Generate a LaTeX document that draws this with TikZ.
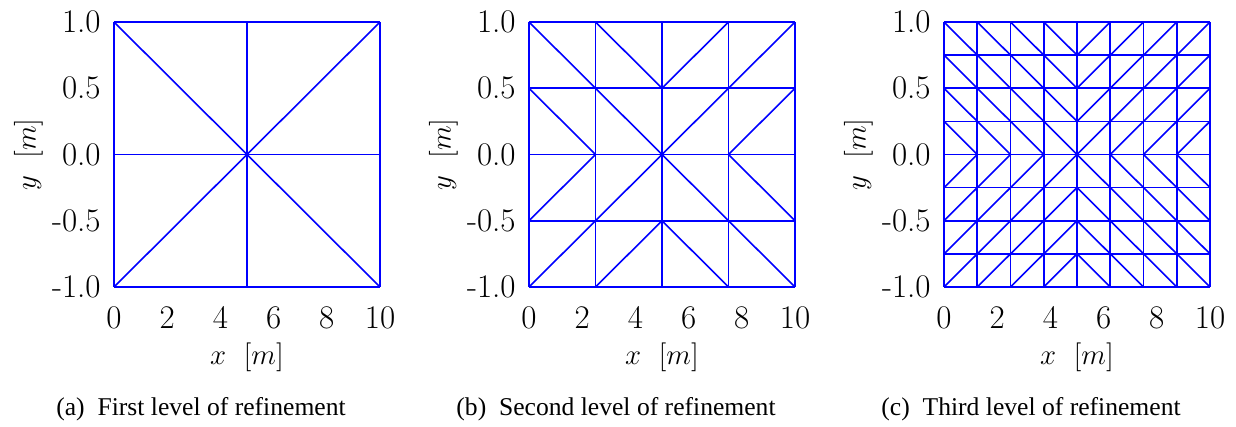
\documentclass[tikz,border=0pt]{standalone}
\usepackage{fontspec}
\newfontfamily\capfont{Liberation Serif}
\usetikzlibrary{positioning}

\begin{document}
\begin{tikzpicture}[x=0.5pt, y=0.5pt,
    mesh/.style={blue, line width=0.8pt},
    ticklab/.style={inner sep=0pt, font=\fontsize{16.5}{19}\selectfont},
    axlab/.style={inner sep=0pt, font=\fontsize{14.5}{17}\selectfont},
    caption/.style={inner sep=0pt, font=\capfont\fontsize{12.8}{15}\selectfont}
]
\useasboundingbox (0,0) rectangle (1236,427);

\foreach \n/\k/\lab/\lev in {2/0/a/First, 4/1/b/Second, 8/2/c/Third} {
  % mesh in data coordinates: x in [0,10], y in [-1,1]
  \begin{scope}[shift={(114+415*\k,272.5)}, x=13.3pt, y=66.25pt]
    \foreach \i in {0,...,\n} {
      \draw [mesh] ({\i*10/\n},-1) -- ({\i*10/\n},1);
      \draw [mesh] (0,{-1+\i*2/\n}) -- (10,{-1+\i*2/\n});
    }
    \foreach \i in {1,...,\n} {
      \foreach \j in {1,...,\n} {
        \pgfmathtruncatemacro\sgn{(2*\i-1-\n)*(2*\j-1-\n)}
        \ifnum\sgn<0
          \draw [mesh] ({(\i-1)*10/\n},{-1+\j*2/\n}) -- ({\i*10/\n},{-1+(\j-1)*2/\n});
        \else
          \draw [mesh] ({(\i-1)*10/\n},{-1+(\j-1)*2/\n}) -- ({\i*10/\n},{-1+\j*2/\n});
        \fi
      }
    }
    \foreach \t in {0,2,...,10}
      \node (xt\lab\t) [ticklab, anchor=north, yshift=-9.5pt] at (\t,-1) {\t};
    \foreach \v/\txt [count=\c] in {-1/-1.0, -0.5/-0.5, 0/0.0, 0.5/0.5, 1/1.0}
      \node (yt\lab\c) [ticklab, anchor=east, xshift=-6.5pt] at (0,\v) {\txt};
    \node (xl\lab) [axlab, anchor=base, yshift=-39pt] at (5,-1)
          {$x$\hspace{0.6em}$[m]$};
  \end{scope}
  \node (yl\lab) [axlab, rotate=90] at (28.5+415*\k,272.5)
        {$y$\hspace{0.6em}$[m]$};
  \node (cap\lab) [caption, anchor=base] at (201+415*\k,11)
        {(\lab)\enspace \lev\ level of refinement};
}
\end{tikzpicture}
\end{document}
